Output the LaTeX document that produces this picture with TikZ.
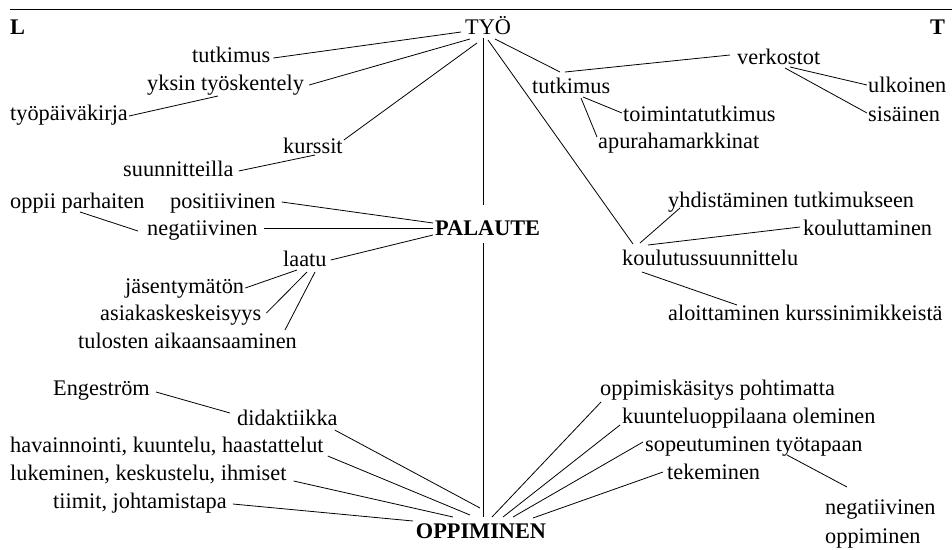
\documentclass[tikz,border=0pt]{standalone}
\usepackage{fontspec}
\setmainfont{Liberation Serif}
\begin{document}
\begin{tikzpicture}[x=1pt,y=-1pt]
\tikzset{
  lbl/.style={anchor=base west, inner sep=0pt, font=\fontsize{22.3}{27}\selectfont},
  head/.style={lbl, font=\fontsize{22.3}{27}\selectfont\bfseries},
  link/.style={line width=0.8pt, black}
}
\useasboundingbox (0,0) rectangle (952,549);
% top rule
\draw[line width=1pt] (10,9) -- (952,9);

% corner letters and the main headings
\node[head] (L) at (10,34) {L};
\node[head] (T) at (930,34) {T};
\node[lbl] (tyo) at (465,34) {TYÖ};
\node[head] (palaute) at (435,235) {PALAUTE};
\node[head, anchor=base] (oppim) at (481,538) {OPPIMINEN};

% left branch of TYÖ
\node[lbl] (tutL) at (192,62) {tutkimus};
\node[lbl] (yksin) at (147,90) {yksin työskentely};
\node[lbl] (tpk) at (10,120) {työpäiväkirja};
\node[lbl] (kurssit) at (283,153) {kurssit};
\node[lbl] (suunn) at (123,176) {suunnitteilla};

% PALAUTE branch
\node[lbl] (oppii) at (10,208) {oppii parhaiten};
\node[lbl] (posit) at (170,208) {positiivinen};
\node[lbl] (negat) at (147,235) {negatiivinen};
\node[lbl] (laatu) at (283,266) {laatu};
\node[lbl] (jasen) at (125,293) {jäsentymätön};
\node[lbl] (asiak) at (100,320) {asiakaskeskeisyys};
\node[lbl] (tulos) at (78,348) {tulosten aikaansaaminen};

% OPPIMINEN, left side
\node[lbl] (enge) at (53,395) {Engeström};
\node[lbl] (didak) at (237,425) {didaktiikka};
\node[lbl] (havai) at (10,452) {havainnointi, kuuntelu, haastattelut};
\node[lbl] (lukem) at (10,480) {lukeminen, keskustelu, ihmiset};
\node[lbl] (tiimit) at (53,508) {tiimit, johtamistapa};

% right branch of TYÖ
\node[lbl] (verk) at (737,64) {verkostot};
\node[lbl] (tutR) at (532,93) {tutkimus};
\node[lbl] (ulko) at (868,92) {ulkoinen};
\node[lbl] (sisa) at (868,121) {sisäinen};
\node[lbl] (toimi) at (623,121) {toimintatutkimus};
\node[lbl] (apura) at (598,148) {apurahamarkkinat};
\node[lbl] (yhdis) at (668,207) {yhdistäminen tutkimukseen};
\node[lbl] (koulut) at (803,235) {kouluttaminen};
\node[lbl] (kss) at (622,265) {koulutussuunnittelu};
\node[lbl] (aloit) at (668,320) {aloittaminen kurssinimikkeistä};

% OPPIMINEN, right side
\node[lbl] (okas) at (600,395) {oppimiskäsitys pohtimatta};
\node[lbl] (kuunt) at (622,423) {kuunteluoppilaana oleminen};
\node[lbl] (sopeu) at (645,451) {sopeutuminen työtapaan};
\node[lbl] (tekem) at (667,479) {tekeminen};
\node[lbl, anchor=north west, align=left, font=\fontsize{22.3}{29}\selectfont] (negop) at (825,500) {negatiivinen\\oppiminen};

% connectors from TYÖ
\draw[link] ([shift={(-4,-2)}]tyo.base west) -- ([shift={(3,-4)}]tutL.base east);
\draw[link] ([shift={(5,5)}]tyo.base west) -- ([shift={(5,-5)}]yksin.base east);
\draw[link] ([shift={(12,9)}]tyo.base west) -- ([shift={(1,-13)}]kurssit.base east);
\draw[link] ([shift={(18,4)}]tyo.base west) -- ([shift={(48,-30)}]palaute.base west);
\draw[link] ([shift={(23,6)}]tyo.base west) -- ([shift={(11,-21)}]kss.base west);
\draw[link] ([shift={(30,5)}]tyo.base west) -- ([shift={(28,-21)}]tutR.base west);

% left branch
\draw[link] ([shift={(71,6)}]yksin.base west) -- ([shift={(1,-4)}]tpk.base east);
\draw[link] ([shift={(32,2)}]kurssit.base west) -- ([shift={(5,-5)}]suunn.base east);

% PALAUTE connectors
\draw[link] ([shift={(6,-6)}]posit.base east) -- ([shift={(-2,-12)}]palaute.base west);
\draw[link] ([shift={(6,-7)}]negat.base east) -- ([shift={(-2,-7)}]palaute.base west);
\draw[link] ([shift={(70,4)}]oppii.base west) -- ([shift={(-9,-4)}]negat.base west);
\draw[link] ([shift={(4,-6)}]laatu.base east) -- ([shift={(-2,0)}]palaute.base west);
\draw[link] ([shift={(14,4)}]laatu.base west) -- ([shift={(1,-5)}]jasen.base east);
\draw[link] ([shift={(24,6)}]laatu.base west) -- ([shift={(5,-7)}]asiak.base east);
\draw[link] ([shift={(32,6)}]laatu.base west) -- ([shift={(207,-18)}]tulos.base west);
\draw[link] ([shift={(48,8)}]palaute.base west) -- ([shift={(2,-21)}]oppim.base);

% OPPIMINEN, left connectors
\draw[link] ([shift={(6,-3)}]enge.base east) -- ([shift={(-7,-12)}]didak.base west);
\draw[link] ([shift={(-3,5)}]didak.base east) -- ([shift={(-1,-30)}]oppim.base);
\draw[link] ([shift={(4,4)}]havai.base east) -- ([shift={(-11,-23)}]oppim.base);
\draw[link] ([shift={(7,1)}]lukem.base east) -- ([shift={(-28,-21)}]oppim.base);
\draw[link] ([shift={(6,-4)}]tiimit.base east) -- ([shift={(-68,-17)}]oppim.base);

% right branch
\draw[link] ([shift={(33,-21)}]tutR.base west) -- ([shift={(-7,-9)}]verk.base west);
\draw[link] ([shift={(53,3)}]verk.base west) -- ([shift={(-1,-7)}]ulko.base west);
\draw[link] ([shift={(48,4)}]verk.base west) -- ([shift={(-1,-8)}]sisa.base west);
\draw[link] ([shift={(51,4)}]tutR.base west) -- ([shift={(-1,-8)}]toimi.base west);
\draw[link] ([shift={(49,5)}]tutR.base west) -- ([shift={(-1,-11)}]apura.base west);
\draw[link] ([shift={(18,-22)}]kss.base west) -- ([shift={(12,1)}]yhdis.base west);
\draw[link] ([shift={(26,-20)}]kss.base west) -- ([shift={(-3,-8)}]koulut.base west);
\draw[link] ([shift={(20,7)}]kss.base west) -- ([shift={(69,-15)}]aloit.base west);

% OPPIMINEN, right connectors
\draw[link] ([shift={(1,7)}]okas.base west) -- ([shift={(11,-21)}]oppim.base);
\draw[link] ([shift={(-2,2)}]kuunt.base west) -- ([shift={(22,-21)}]oppim.base);
\draw[link] ([shift={(-2,-9)}]sopeu.base west) -- ([shift={(32,-21)}]oppim.base);
\draw[link] ([shift={(-4,-7)}]tekem.base west) -- ([shift={(52,-20)}]oppim.base);
\draw[link] ([shift={(142,4)}]sopeu.base west) -- ([shift={(22,-13)}]negop.north west);
\end{tikzpicture}
\end{document}
